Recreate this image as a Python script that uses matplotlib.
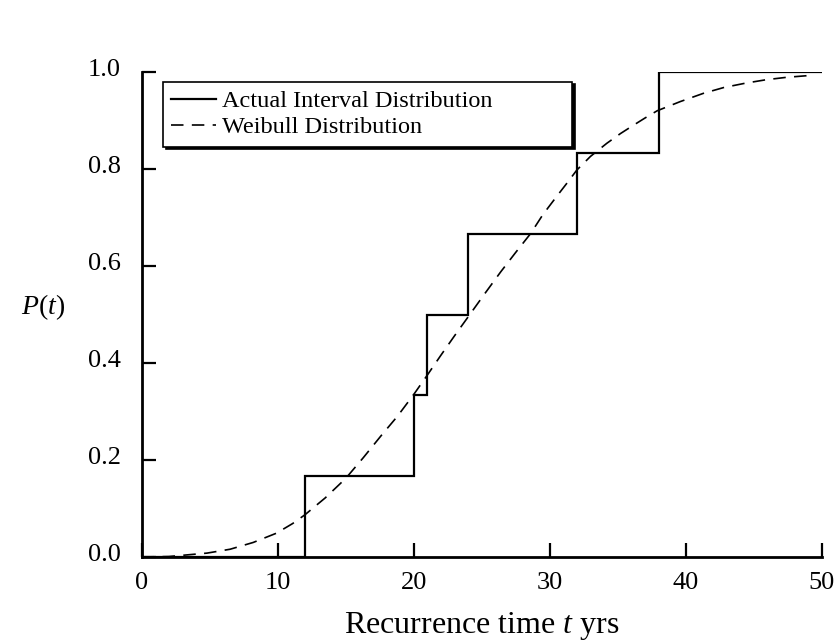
import matplotlib
matplotlib.use("Agg")
import matplotlib.pyplot as plt
from matplotlib.transforms import ScaledTranslation

plt.rcParams['font.family'] = ['Liberation Serif', 'DejaVu Serif']
plt.rcParams['mathtext.fontset'] = 'custom'
plt.rcParams['mathtext.rm'] = 'Liberation Serif'
plt.rcParams['mathtext.it'] = 'Liberation Serif:italic'

# Actual interval distribution (empirical CDF steps)
step_t = [0, 12, 20, 21, 24, 32, 38, 50]
step_p = [0.0, 1/6, 2/6, 3/6, 4/6, 5/6, 1.0, 1.0]

# Weibull distribution curve
weib_t = [0, 2, 4.8, 6.5, 8.2, 9.9, 11.1, 12, 13.5, 15, 16.3, 17.6, 18.8, 20, 21, 22, 23,
          24, 25.2, 26.4, 27.5, 28.6, 29.5, 30.5, 31.3, 32, 33, 34.2, 35.2, 36.2, 37,
          37.9, 39.6, 41.3, 42.8, 44.4, 45.9, 47.4, 49.2]
weib_p = [0.0, 0.001, 0.008, 0.016, 0.03, 0.049, 0.069, 0.087, 0.122, 0.162, 0.205, 0.25,
          0.29, 0.335, 0.375, 0.416, 0.456, 0.495, 0.542, 0.588, 0.628, 0.667, 0.706,
          0.743, 0.772, 0.798, 0.826, 0.853, 0.873, 0.891, 0.905, 0.920, 0.939, 0.956,
          0.968, 0.977, 0.984, 0.989, 0.993]

x_ticks = [0, 10, 20, 30, 40, 50]
y_ticks = [0.0, 0.2, 0.4, 0.6, 0.8, 1.0]

fig = plt.figure(figsize=(8.35, 6.43), dpi=100)
ax = fig.add_axes([141.7/835, 1-557/643, 680/835, 485/643])

ax.step(step_t, step_p, where='post', color='black', lw=1.6,
        label='Actual Interval Distribution', solid_joinstyle='miter')
ax.plot(weib_t, weib_p, color='black', lw=1.2, dashes=(7.5, 5),
        label='Weibull Distribution')

ax.set_xlim(0, 50)
ax.set_ylim(0, 1.0)
ax.set_xticks(x_ticks)
ax.set_xticklabels([str(v) for v in x_ticks])
ax.set_yticks(y_ticks)
ax.set_yticklabels([f"{v:.1f}" for v in y_ticks])
for s in ['top', 'right']:
    ax.spines[s].set_visible(False)
for s in ['left', 'bottom']:
    ax.spines[s].set_linewidth(2.0)
ax.tick_params(direction='in', length=10, width=1.6, labelsize=19, colors='black')
ax.tick_params(axis='x', pad=11)
ax.tick_params(axis='y', pad=15)
up = ScaledTranslation(0, 3/72, fig.dpi_scale_trans)
for lab in ax.get_yticklabels():
    lab.set_transform(lab.get_transform() + up)

ax.text(0.5, -0.142, 'Recurrence time $t$ yrs', transform=ax.transAxes,
        ha='center', va='center', fontsize=23)
ax.text(-0.145, 0.516, '$P$($t$)', transform=ax.transAxes,
        ha='center', va='center', fontsize=20)

leg = ax.legend(loc='upper left', bbox_to_anchor=(0.031, 0.0, (571.7-162.7)/680, 0.98),
                mode='expand', borderaxespad=0, fontsize=17.5, handlelength=1.85,
                handletextpad=0.25, borderpad=0.35, labelspacing=0.16,
                frameon=True, fancybox=False, framealpha=1, edgecolor='black',
                shadow={'color': 'black', 'alpha': 1})
leg.get_frame().set_linewidth(1.2)

fig.savefig('out.png', dpi=100)
